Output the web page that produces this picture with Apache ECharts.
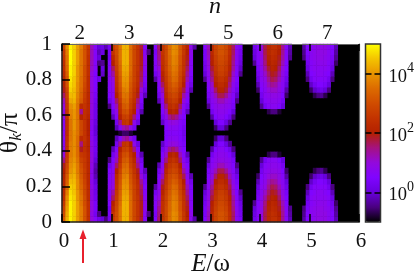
<!DOCTYPE html>
<html><head><meta charset="utf-8">
<style>html,body{margin:0;padding:0;background:#fff}#c{width:415px;height:275px}</style>
<script src="https://cdn.jsdelivr.net/npm/echarts@6/dist/echarts.min.js"></script>
</head><body><div id="c"></div>
<script>
const _ = null;
// log10 intensity. Columns run along E/omega in 1/14 steps, rows along theta in 1/33 steps.
// n=2 band: all 33 rows, bottom to top
const band2 = [
[3.2,4.3,4.9,4.6,4.1,3.7,3.1,2.4,1,.6,.2,0,-.5],
[3,4.2,4.9,4.6,4.1,3.7,3.1,2.4,.9,.3,-.5,_,_],
[2.8,4.1,4.9,4.6,4.1,3.7,3.1,2.4,1,.4,_,_,_],
[2.6,4,4.9,4.6,4.1,3.6,3,2.4,1,.4],
[2.4,3.9,4.8,4.6,4,3.6,3,2.3,.9,.3],
[2.3,3.7,4.7,4.5,4,3.5,2.9,2.3,.9,.2],
[2.2,3.5,4.6,4.5,3.9,3.4,2.9,2.3,.9,.2],
[2.2,3.3,4.4,4.4,3.9,3.3,2.8,2.2,.8,0],
[2.1,3.2,4.2,4.3,3.8,3.2,2.7,2.2,.8,-.2],
[2,3,4,4.2,3.7,3.1,2.7,2.2,.8,-.3],
[1.9,2.9,3.9,4.1,3.7,3,2.6,2.2,.9,-.2],
[1.5,2.7,3.8,4,3.6,2.8,2.6,2.2,1,0],
[1,2.6,3.7,3.9,3.5,2.6,2.5,2.2,1,.2],
[.8,2.5,3.7,3.9,3.5,1.9,2.4,2.1,.9,.3],
[.7,2.5,3.7,3.9,3.5,1.5,2.4,2.1,.9,.3],
[.7,2.4,3.6,3.9,3.5,2.3,2.5,2.1,.8,.2],
[.7,2.3,3.6,3.9,3.6,2.9,2.5,2,.7,0],
[.7,2.4,3.6,4,3.6,2.9,2.5,2,.7,0],
[.7,2.4,3.6,4,3.6,2.9,2.5,2,.8,.1],
[.8,2.5,3.7,4,3.6,2.1,2.4,2.1,.9,.2],
[.9,2.5,3.8,4,3.6,1.4,2.4,2.2,.9,.2],
[1,2.6,3.9,4.1,3.6,2.3,2.5,2.2,1,.2],
[1.2,2.7,4.2,4.3,3.7,3.2,2.6,2.2,1,.3],
[1.6,2.8,4.4,4.4,3.8,3.3,2.7,2.2,1,.4],
[1.9,2.9,4.6,4.4,3.9,3.4,2.8,2.3,1,.5],
[2.1,3.1,4.7,4.5,3.9,3.5,2.9,2.3,1,.5],
[2.2,3.2,4.8,4.5,4,3.5,3,2.3,1,.5,.1],
[2.3,3.3,4.9,4.6,4,3.6,3,2.4,1,.5,_,-.1],
[2.4,3.5,4.9,4.6,4,3.6,3,2.4,1.1,.6,_,0],
[2.4,3.6,5,4.6,4.1,3.6,3.1,2.4,1.2,.6,-.5,-.4],
[2.5,3.6,5,4.6,4.1,3.6,3.1,2.4,1.2,.6,0],
[2.6,3.7,5,4.6,4.1,3.6,3.1,2.5,1.2,.6,-.2,.1],
[2.8,3.9,4.9,4.6,4.1,3.7,3.1,2.5,1.2,.6,0,.1,-.2]
];
// the other bands: rows from theta=0 up to theta=pi/2, the upper half mirrors them
const band3 = [
[.3,2.6,3,3.6,4.3,4.3,3.5,2.9,2.5,1.8,.6],
[.4,2.5,3,3.6,4.3,4.3,3.5,2.9,2.5,1.9,.7,-.5],
[.3,2.2,2.9,3.6,4.3,4.3,3.5,2.9,2.5,1.9,.8],
[.5,2,2.8,3.5,4.3,4.3,3.5,2.9,2.5,1.9,.8],
[.6,1.6,2.7,3.4,4.2,4.2,3.5,2.8,2.5,1.8,.7],
[.7,1.3,2.6,3.3,4.1,4.1,3.4,2.8,2.4,1.7,.6],
[.7,1,2.5,3.2,4,4,3.3,2.8,2.4,1.6,.5],
[.6,.9,2.4,3.1,3.9,3.9,3.2,2.7,2.3,1.4,.4],
[.6,.8,2.3,3,3.7,3.8,3.1,2.6,2.1,1,.2],
[.5,.7,2,2.8,3.6,3.6,3,2.5,1.9,.7,-.2],
[.2,.6,1.6,2.6,3.4,3.5,2.8,2.4,1.5,.5],
[-.5,.5,1.2,2.4,3.2,3.3,2.7,2.2,1.2,.3],
[_,.3,.9,2.3,3,3.1,2.5,2,.8,-.2],
[_,-.2,.6,2,2.7,2.8,2.3,1.5,.5],
[_,_,.3,1.4,2.5,2.6,2,.8,.1],
[_,_,-.2,.6,1.2,1.4,.9,.3],
[_,_,_,-.8,-.6,-.6,-.8]
];
const band4 = [
[.5,1.6,2.5,2.9,3.5,3.9,3.8,3.2,2.6,2.1,.8,-.3],
[.4,1.5,2.5,2.9,3.5,3.9,3.8,3.2,2.6,2,.8],
[.5,1.4,2.4,2.9,3.4,3.8,3.7,3.1,2.5,1.9,.7],
[.6,1.2,2.4,2.8,3.4,3.8,3.7,3.1,2.5,1.8,.6],
[.6,1,2.3,2.8,3.3,3.7,3.6,3,2.5,1.6,.6],
[.3,.8,2.1,2.7,3.2,3.6,3.5,2.9,2.4,1.4,.5],
[-.3,.7,1.9,2.6,3.1,3.5,3.4,2.8,2.2,1.2,.4],
[_,.6,1.6,2.5,3,3.3,3.2,2.7,2,.9,.2],
[_,.5,1.2,2.4,2.9,3.1,3,2.5,1.7,.7,-.2],
[_,.3,1,2.2,2.7,2.9,2.8,2.3,1.3,.6],
[_,-.2,.7,1.9,2.5,2.7,2.6,2,1,.5],
[_,_,.6,1.5,2.3,2.5,2.3,1.6,.7,.3],
[_,_,.5,1.1,2,2.2,2,1.2,.6,-.2],
[_,_,.3,.8,1.4,1.6,1.4,.8,.5],
[_,_,-.1,.6,.9,1,.9,.6,.4],
[_,_,_,.5,.7,.7,.7,.5,.3],
[_,_,_,.5,.6,.6,.6,.5,.2]
];
const band5 = [
[_,.5,1.2,2.2,2.8,3.1,3.1,2.9,2.4,1.6,.7,.4],
[_,.4,1.2,2.2,2.8,3.1,3.1,2.9,2.4,1.6,.7,.3],
[_,.4,1.1,2.1,2.7,3,3,2.8,2.3,1.5,.7,.2],
[_,.3,1,2,2.6,2.9,2.9,2.7,2.2,1.4,.6,.1],
[_,.2,.9,1.8,2.5,2.8,2.8,2.6,2.1,1.3,.6,-.1],
[_,0,.8,1.6,2.4,2.7,2.7,2.5,1.9,1.1,.5,-.4],
[_,-.4,.7,1.4,2.2,2.5,2.5,2.3,1.7,1,.5],
[_,_,.6,1.1,2,2.3,2.3,2.1,1.5,.8,.4],
[_,_,.5,.9,1.6,2.1,2.1,1.8,1.2,.7,.2],
[_,_,.4,.8,1.2,1.7,1.7,1.4,1,.6,-.1],
[_,_,.1,.7,.9,1.2,1.2,1,.8,.5,-.5],
[_,_,-.4,.6,.8,.9,.9,.8,.7,.4],
[_,_,_,.3,.7,.8,.8,.7,.5,0],
[_,_,_,-.3,.5,.7,.7,.5,.2,-.5],
[_,_,_,_,0,.5,.5,.1,-.4],
[_,_,_,_,-.6,0,0,-.5],
[]
];
const band6 = [
[.2,.6,1,1.7,2.2,2.4,2.4,2.1,1.4,.6,-.2],
[.1,.6,1,1.7,2.2,2.4,2.3,2,1.4,.6,-.3],
[0,.6,.9,1.6,2.1,2.3,2.2,1.9,1.3,.6,-.4],
[-.4,.5,.9,1.5,2,2.2,2.1,1.8,1.2,.5],
[_,.4,.8,1.3,1.8,2.1,2,1.6,1,.5],
[_,.3,.7,1.1,1.6,1.9,1.8,1.4,.9,.4],
[_,.1,.7,.9,1.4,1.7,1.6,1.2,.8,.2],
[_,-.2,.6,.8,1.2,1.4,1.3,1,.7,0],
[_,-.6,.5,.7,1,1.1,1.1,.9,.6,-.3],
[_,_,.3,.7,.8,.9,.9,.8,.5,-.6],
[_,_,0,.6,.7,.8,.8,.7,.3],
[_,_,-.4,.3,.6,.7,.7,.5,0],
[_,_,_,_,-.7,-.5,-.5,-.8],
[],[],[],[]
];
const band7 = [
[_,-.3,.5,.7,.8,.9,.9,.9,.7,.5,-.2],
[_,-.4,.5,.7,.8,.9,.9,.9,.7,.5,-.3],
[_,-.5,.4,.7,.8,.85,.9,.8,.7,.4,-.4],
[_,_,.3,.6,.7,.8,.8,.8,.6,.3,-.6],
[_,_,.1,.6,.7,.7,.7,.7,.6,.1],
[_,_,-.2,.5,.6,.7,.7,.6,.5,-.2],
[_,_,-.5,.3,.6,.6,.6,.6,.3,-.5],
[_,_,_,-.1,.3,.5,.5,.4,0],
[_,_,_,-.6,-.1,.1,.2,0,-.5],
[_,_,_,_,-.7,-.5,-.4,-.7],
[],[],[],[],[],[],[]
];
const bandWidths = [13,13,13,15,13,13];
const columnCount = 84, rowCount = 33;
const nTicks = [2,3,4,5,6,7];
const colorbarTicks = [0,2,4];
const palette = ['#000000','#4a0080','#6800dd','#8004ff','#9309dd','#a51280','#b42000','#c33300','#d04c00','#dd6b00','#e99400','#f4c400','#ffff00'];

const cells = [];
const mirrored = [band3,band4,band5,band6,band7];
for (let r = 0; r < rowCount; r++) {
  const k = r <= 16 ? r : 32 - r;
  const row = band2[r].concat(Array(13 - band2[r].length).fill(_));
  mirrored.forEach((b,i) => { const w = bandWidths[i+1]; row.push(...b[k], ...Array(w - b[k].length).fill(_)); });
  row.forEach((v,c) => { if (v !== _) cells.push([c,r,v]); });
}
const serif = '"Liberation Serif","Times New Roman",serif';
const tickFont = {fontFamily: serif, fontSize: 21, color: '#111'};
const chart = echarts.init(document.getElementById('c'), null, {renderer:'canvas'});
chart.setOption({
  animation:false,
  backgroundColor:'#fff',
  grid:[
    {left:62,top:44,width:297,height:178,show:true,backgroundColor:'#000',borderWidth:0,outerBoundsMode:'none'},
    {left:365.5,top:44,width:15,height:178,show:true,backgroundColor:'transparent',borderColor:'#333',borderWidth:1.5,z:10,outerBoundsMode:'none'}
  ],
  xAxis:[
    {type:'category',gridIndex:0,show:false,data:Array.from({length:columnCount},(v,i)=>i)},
    {type:'value',gridIndex:0,position:'bottom',min:0,max:6,interval:1,z:10,
      axisLine:{show:true,onZero:false,lineStyle:{color:'#222',width:1.5}},
      axisTick:{show:true,inside:true,length:8,lineStyle:{color:'#000',width:1.5}},
      axisLabel:{show:true,...tickFont,margin:9,padding:[0,0,0,4]},splitLine:{show:false},
      name:'{i|E}{u|/ω}',nameLocation:'middle',nameGap:30,nameMoveOverlap:false,
      nameTextStyle:{rich:{i:{fontFamily:serif,fontStyle:'italic',fontSize:25,color:'#111'},u:{fontFamily:serif,fontSize:25,color:'#111'}}}},
    {type:'value',gridIndex:0,position:'top',min:0,max:6,interval:1,z:10,
      axisLine:{show:true,onZero:false,lineStyle:{color:'#666',width:1.2}},
      axisTick:{show:true,inside:true,length:7,lineStyle:{color:'#000',width:1.5}},
      axisLabel:{show:false},splitLine:{show:false}},
    {type:'value',gridIndex:0,position:'top',min:1.64,max:7.64,z:10,
      axisLine:{show:false},axisTick:{show:false},splitLine:{show:false},
      axisLabel:{show:true,...tickFont,margin:0,customValues:nTicks,formatter:v=>String(v)},
      name:'n',nameLocation:'middle',nameGap:25,nameMoveOverlap:false,
      nameTextStyle:{fontFamily:serif,fontStyle:'italic',fontSize:24,color:'#111',padding:[0,0,0,9]}},
    {type:'value',gridIndex:1,show:false,min:0,max:1}
  ],
  yAxis:[
    {type:'category',gridIndex:0,show:false,data:Array.from({length:rowCount},(v,i)=>i)},
    {type:'value',gridIndex:0,position:'left',min:0,max:1,interval:0.2,z:10,
      axisLine:{show:true,onZero:false,lineStyle:{color:'#222',width:1.5}},
      axisTick:{show:true,inside:true,length:8,lineStyle:{color:'#000',width:1.5}},
      axisLabel:{show:true,...tickFont,margin:10},splitLine:{show:false},
      name:'{u|θ}{s|k}{u|/π}',nameLocation:'middle',nameRotate:90,nameGap:37,nameMoveOverlap:false,
      nameTextStyle:{rich:{u:{fontFamily:serif,fontSize:26,color:'#111'},s:{fontFamily:serif,fontStyle:'italic',fontSize:17,color:'#111',verticalAlign:'bottom',lineHeight:30}}}},
    {type:'value',gridIndex:0,position:'right',min:0,max:1,interval:1,z:10,
      axisLine:{show:true,onZero:false,lineStyle:{color:'#666',width:1.2}},
      axisTick:{show:false},axisLabel:{show:false},splitLine:{show:false}},
    {type:'value',gridIndex:1,position:'left',min:-1,max:5,z:11,
      axisLine:{show:false},splitLine:{show:false},axisLabel:{show:false},
      axisTick:{show:true,inside:true,length:6,customValues:colorbarTicks,lineStyle:{color:'#000',width:1.5}}},
    {type:'value',gridIndex:1,position:'right',min:-1,max:5,z:11,
      axisLine:{show:false},splitLine:{show:false},
      axisTick:{show:true,inside:true,length:6,customValues:colorbarTicks,lineStyle:{color:'#000',width:1.5}},
      axisLabel:{show:true,margin:8,customValues:colorbarTicks,formatter:v=>'{b|10}{s|'+v+'}',
        rich:{b:{fontFamily:serif,fontSize:18.5,color:'#111',lineHeight:24,padding:[6,0,0,0]},s:{fontFamily:serif,fontSize:14,color:'#111',verticalAlign:'top',lineHeight:20}}}}
  ],
  visualMap:{type:'continuous',seriesIndex:0,dimension:2,min:-1,max:5,calculable:false,
    left:365.5,top:44,itemWidth:15,itemHeight:178,padding:0,text:null,hoverLink:false,
    inRange:{color:palette}},
  series:[{type:'heatmap',xAxisIndex:0,yAxisIndex:0,data:cells,progressive:0,itemStyle:{borderWidth:0},emphasis:{disabled:true}}],
  graphic:[
    {type:'line',shape:{x1:83,y1:263,x2:83,y2:237},style:{stroke:'#e8202c',lineWidth:2}},
    {type:'polygon',shape:{points:[[83,229.5],[79.5,239],[86.5,239]]},style:{fill:'#e8202c'}}
  ]
});
</script></body></html>
